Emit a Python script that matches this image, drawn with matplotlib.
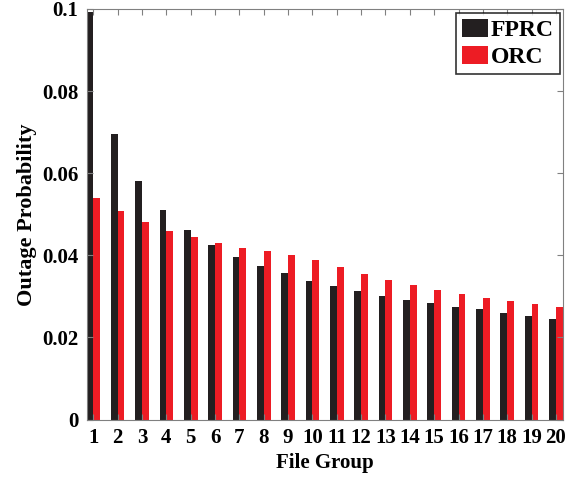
import numpy as np
import matplotlib.pyplot as plt

# values
groups = list(range(1, 21))
fprc = [0.0993, 0.0695, 0.0580, 0.0510, 0.0462, 0.0426, 0.0397, 0.0375, 0.0356, 0.0338,
        0.0326, 0.0312, 0.0302, 0.0292, 0.0283, 0.0274, 0.0268, 0.0260, 0.0253, 0.0246]
orc = [0.0539, 0.0508, 0.0480, 0.0459, 0.0444, 0.0430, 0.0418, 0.0410, 0.0401, 0.0389,
       0.0371, 0.0354, 0.0341, 0.0328, 0.0316, 0.0306, 0.0296, 0.0289, 0.0281, 0.0273]
series_names = ['FPRC', 'ORC']

plt.rcParams['font.family'] = ['Liberation Serif', 'DejaVu Serif']
plt.rcParams['font.weight'] = 'bold'

W, H = 581, 478
fig = plt.figure(figsize=(W / 100, H / 100), dpi=100)
left, right, top, bottom = 86.5, 562.7, 9.0, 419.5
ax = fig.add_axes([left / W, (H - bottom) / H, (right - left) / W, (bottom - top) / H])

x = np.array(groups)
w = 0.28
ax.bar(x - w / 2, fprc, width=w, color='#231f20', label=series_names[0])
ax.bar(x + w / 2, orc, width=w, color='#ed1c24', label=series_names[1])

ax.set_xlim(1 - w, 20 + w)
ax.set_ylim(0, 0.1)
ax.set_xticks(groups)
ax.set_xticklabels([str(g) for g in groups])
ax.set_yticks([0, 0.02, 0.04, 0.06, 0.08, 0.1])
ax.set_yticklabels(['0', '0.02', '0.04', '0.06', '0.08', '0.1'])
ax.tick_params(direction='in', top=True, right=True, length=4, width=0.8,
               color='#808080', labelsize=15, pad=6)
for s in ax.spines.values():
    s.set_color('#808080')
    s.set_linewidth(0.8)

ax.set_xlabel('File Group', fontsize=15, fontweight='bold', labelpad=4)
ax.set_ylabel('Outage Probability', fontsize=16, fontweight='bold', labelpad=3.5)

leg = ax.legend(loc='upper right',
                bbox_to_anchor=((560 - left) / (right - left), (bottom - 12.7) / (bottom - top)),
                fontsize=17, frameon=True, fancybox=False, edgecolor='black',
                borderpad=0.25, handlelength=1.1, handleheight=0.8,
                handletextpad=0.13, labelspacing=0.2, borderaxespad=0)
leg.get_frame().set_linewidth(1.2)
for t in leg.get_texts():
    t.set_fontweight('bold')

fig.savefig('out.png', dpi=100)
